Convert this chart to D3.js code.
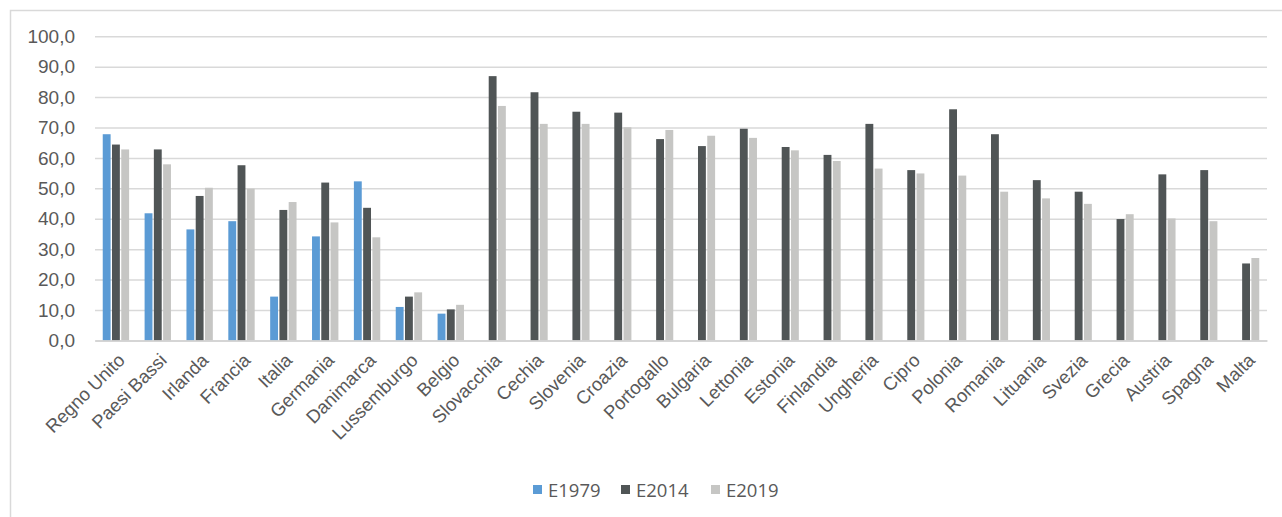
<!DOCTYPE html>
<html>
<head>
<meta charset="utf-8">
<script src="https://cdn.jsdelivr.net/npm/d3@7"></script>
<style>
  html, body { margin: 0; padding: 0; background: #fff; }
  svg { display: block; font-family: "Open Sans", "Liberation Sans", sans-serif; }
</style>
</head>
<body>
<svg id="chart" width="1282" height="517"></svg>
<script>
const categories = ["Regno Unito","Paesi Bassi","Irlanda","Francia","Italia","Germania","Danimarca","Lussemburgo","Belgio","Slovacchia","Cechia","Slovenia","Croazia","Portogallo","Bulgaria","Lettonia","Estonia","Finlandia","Ungheria","Cipro","Polonia","Romania","Lituania","Svezia","Grecia","Austria","Spagna","Malta"];
const seriesNames = ["E1979","E2014","E2019"];
const e1979 = [67.8,41.8,36.5,39.2,14.4,34.2,52.3,11.0,8.8,
  null,null,null,null,null,null,null,null,null,
  null,null,null,null,null,null,null,null,null,null];
const e2014 = [64.4,62.8,47.5,57.6,42.9,51.9,43.6,14.4,10.2,
  86.9,81.6,75.2,74.9,66.2,63.9,69.6,63.6,61.0,
  71.2,56.0,76.0,67.8,52.7,48.9,39.9,54.6,56.0,25.3];
const e2019 = [62.8,57.9,50.2,49.9,45.5,38.8,33.9,15.8,11.7,
  77.1,71.2,71.2,70.1,69.2,67.3,66.6,62.5,59.0,
  56.5,54.9,54.2,48.9,46.7,44.9,41.5,40.1,39.2,27.1];
const yTicks = [0,10,20,30,40,50,60,70,80,90,100];
const colors = ["#5b9bd5","#505556","#c6c6c4"];

const seriesValues = [e1979, e2014, e2019];
const svg = d3.select("#chart");

// chart border
svg.append("path")
  .attr("d", "M10.5,517 L10.5,10.5 L1282,10.5")
  .attr("fill","none").attr("stroke","#d9d9d9").attr("stroke-width",1.5);

const plotLeft = 95, plotRight = 1267, plotTop = 36.3, plotBottom = 340.4;

const x = d3.scaleBand().domain(categories).range([plotLeft, plotRight]).paddingInner(0.37).paddingOuter(0.185);
const x1 = d3.scaleBand().domain(seriesNames).range([0, x.bandwidth()]).paddingInner(0.15).paddingOuter(0);
const y = d3.scaleLinear().domain([0,100]).range([plotBottom, plotTop]);

// grid
const yAxis = d3.axisLeft(y).tickValues(yTicks)
  .tickSize(-(plotRight-plotLeft)).tickPadding(20)
  .tickFormat(d => d.toFixed(1).replace(".", ","));
const gy = svg.append("g").attr("transform", `translate(${plotLeft},0)`).call(yAxis);
gy.select(".domain").remove();
gy.selectAll(".tick line").attr("stroke","#d9d9d9").attr("stroke-width",1.5);
gy.selectAll(".tick text").attr("fill","#595959").style("font-size","19px").attr("x",-20);

// bars
const groups = svg.append("g").selectAll("g")
  .data(categories).join("g")
  .attr("transform", d => `translate(${x(d)},0)`);

groups.selectAll("rect")
  .data((d,i) => seriesNames.map((s,j) => ({s, v: seriesValues[j][i], j})).filter(o => o.v !== null))
  .join("rect")
  .attr("x", o => x1(o.s))
  .attr("width", x1.bandwidth())
  .attr("y", o => y(o.v))
  .attr("height", o => y(0) - y(o.v))
  .attr("fill", o => colors[o.j]);

// x axis
const xAxis = d3.axisBottom(x).tickSize(0).tickPadding(0);
const gx = svg.append("g").attr("transform", `translate(0,${plotBottom})`).call(xAxis);
gx.select(".domain").attr("stroke","#d0d0d0").attr("stroke-width",1.5);
gx.selectAll(".tick text")
  .attr("fill","#595959").style("font-size","18.5px")
  .attr("text-anchor","end")
  .attr("dy", null).attr("y", 0)
  .attr("transform","translate(10,21) rotate(-45)");

// legend
const legendItems = [{n:"E1979",x:533},{n:"E2014",x:621},{n:"E2019",x:711}];
const lg = svg.append("g");
legendItems.forEach((it, i) => {
  lg.append("rect").attr("x", it.x).attr("y", 485).attr("width", 9).attr("height", 9).attr("fill", colors[i]);
  lg.append("text").attr("x", it.x + 15).attr("y", 497).attr("fill","#595959").style("font-size","18.5px").text(seriesNames[i]);
});
</script>
</body>
</html>
